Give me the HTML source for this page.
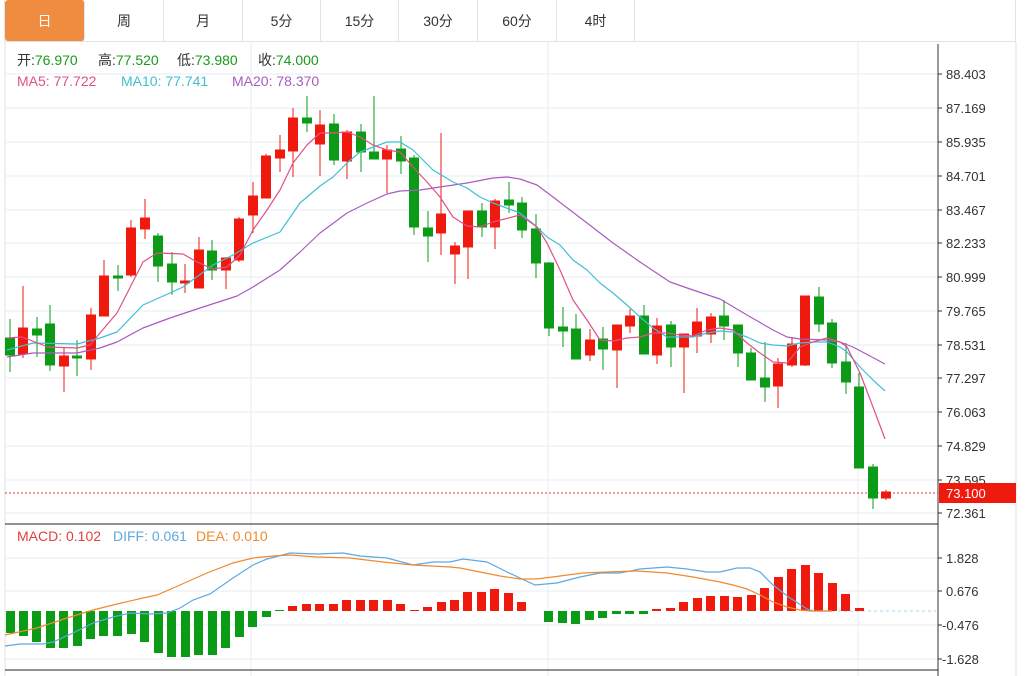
<!DOCTYPE html>
<html><head><meta charset="utf-8"><style>
body{margin:0;background:#fff;width:1033px;height:676px;overflow:hidden;font-family:"Liberation Sans","Noto Sans CJK SC",sans-serif}
.tabs{position:absolute;left:4px;top:0;width:1012px;height:42px;border:1px solid #e2e2e2;border-top:none;box-sizing:border-box}
.tab{position:absolute;top:0;height:41px;line-height:42px;text-align:center;font-size:14px;color:#333;border-right:1px solid #e2e2e2;box-sizing:border-box}
</style></head><body>
<div class="tabs">
<div class="tab" style="left:0;width:80px;background:#f08c40;color:#fff;border-radius:3px">日</div>
<div class="tab" style="left:80px;width:79px">周</div>
<div class="tab" style="left:159px;width:79px">月</div>
<div class="tab" style="left:238px;width:78px">5分</div>
<div class="tab" style="left:316px;width:78px">15分</div>
<div class="tab" style="left:394px;width:79px">30分</div>
<div class="tab" style="left:473px;width:79px">60分</div>
<div class="tab" style="left:552px;width:78px">4时</div>
</div>
<svg width="1033" height="676" style="position:absolute;left:0;top:0" xmlns="http://www.w3.org/2000/svg" font-family="Liberation Sans, Noto Sans CJK SC, sans-serif">
<line x1="1016" y1="42" x2="1016" y2="676" stroke="#e2e2e2"/>
<line x1="5" y1="42" x2="5" y2="676" stroke="#e2e2e2"/>
<g stroke="#e6edf3" stroke-width="1">
<line x1="5" y1="74" x2="938" y2="74"/><line x1="5" y1="108" x2="938" y2="108"/><line x1="5" y1="142" x2="938" y2="142"/><line x1="5" y1="176" x2="938" y2="176"/><line x1="5" y1="210" x2="938" y2="210"/><line x1="5" y1="243" x2="938" y2="243"/><line x1="5" y1="277" x2="938" y2="277"/><line x1="5" y1="311" x2="938" y2="311"/><line x1="5" y1="345" x2="938" y2="345"/><line x1="5" y1="378" x2="938" y2="378"/><line x1="5" y1="412" x2="938" y2="412"/><line x1="5" y1="446" x2="938" y2="446"/><line x1="5" y1="480" x2="938" y2="480"/><line x1="5" y1="513" x2="938" y2="513"/>
<line x1="5" y1="558" x2="938" y2="558"/><line x1="5" y1="591" x2="938" y2="591"/><line x1="5" y1="625" x2="938" y2="625"/><line x1="5" y1="659" x2="938" y2="659"/>
<line x1="251" y1="42" x2="251" y2="676"/><line x1="548" y1="42" x2="548" y2="676"/><line x1="858" y1="42" x2="858" y2="676"/>
</g>
<line x1="938" y1="44" x2="938" y2="676" stroke="#333"/>
<line x1="5" y1="524" x2="938" y2="524" stroke="#222"/>
<line x1="5" y1="670" x2="938" y2="670" stroke="#222"/>
<g font-size="14" fill="#333">
<text x="17" y="65">开:<tspan fill="#1a9a1a">76.970</tspan></text>
<text x="98" y="65">高:<tspan fill="#1a9a1a">77.520</tspan></text>
<text x="177" y="65">低:<tspan fill="#1a9a1a">73.980</tspan></text>
<text x="258" y="65">收:<tspan fill="#1a9a1a">74.000</tspan></text>
<text x="17" y="86" fill="#e0508a">MA5: 77.722</text><text x="121" y="86" fill="#3fbfd3">MA10: 77.741</text><text x="232" y="86" fill="#a95cc0">MA20: 78.370</text>
<text x="17" y="541" fill="#e04040">MACD: 0.102</text><text x="113" y="541" fill="#5fa8e0">DIFF: 0.061</text><text x="196" y="541" fill="#f08a2e">DEA: 0.010</text>
</g>
<g font-size="13" fill="#333">
<g stroke="#333"><line x1="938" y1="74" x2="942" y2="74"/><line x1="938" y1="108" x2="942" y2="108"/><line x1="938" y1="142" x2="942" y2="142"/><line x1="938" y1="176" x2="942" y2="176"/><line x1="938" y1="210" x2="942" y2="210"/><line x1="938" y1="243" x2="942" y2="243"/><line x1="938" y1="277" x2="942" y2="277"/><line x1="938" y1="311" x2="942" y2="311"/><line x1="938" y1="345" x2="942" y2="345"/><line x1="938" y1="378" x2="942" y2="378"/><line x1="938" y1="412" x2="942" y2="412"/><line x1="938" y1="446" x2="942" y2="446"/><line x1="938" y1="480" x2="942" y2="480"/><line x1="938" y1="513" x2="942" y2="513"/><line x1="938" y1="558" x2="942" y2="558"/><line x1="938" y1="591" x2="942" y2="591"/><line x1="938" y1="625" x2="942" y2="625"/><line x1="938" y1="659" x2="942" y2="659"/></g>
<text x="946" y="79">88.403</text><text x="946" y="113">87.169</text><text x="946" y="147">85.935</text><text x="946" y="181">84.701</text><text x="946" y="215">83.467</text><text x="946" y="248">82.233</text><text x="946" y="282">80.999</text><text x="946" y="316">79.765</text><text x="946" y="350">78.531</text><text x="946" y="383">77.297</text><text x="946" y="417">76.063</text><text x="946" y="451">74.829</text><text x="946" y="485">73.595</text><text x="946" y="518">72.361</text>
<text x="946" y="563">1.828</text><text x="946" y="596">0.676</text><text x="942" y="630">-0.476</text><text x="942" y="664">-1.628</text>
</g>
<line x1="5" y1="493" x2="938" y2="493" stroke="#e33" stroke-dasharray="2,2"/>
<rect x="939" y="483" width="77" height="20" fill="#f0190d"/>
<text x="946" y="498" font-size="13" fill="#fff">73.100</text>
<line x1="832" y1="611" x2="936" y2="611" stroke="#a8d4ec" stroke-dasharray="3,3"/>
<g id="c">
<g stroke="#0b9b16" fill="#0b9b16">
<line x1="10" y1="319" x2="10" y2="372"/><rect x="5.5" y="338" width="9" height="17"/>
<line x1="37" y1="317" x2="37" y2="357"/><rect x="32.5" y="329" width="9" height="6"/>
<line x1="50" y1="305" x2="50" y2="371"/><rect x="45.5" y="324" width="9" height="41"/>
<line x1="77" y1="340" x2="77" y2="376"/><rect x="72.5" y="356" width="9" height="2"/>
<line x1="118" y1="265" x2="118" y2="291"/><rect x="113.5" y="276" width="9" height="2"/>
<line x1="158" y1="233" x2="158" y2="282"/><rect x="153.5" y="236" width="9" height="30"/>
<line x1="172" y1="252" x2="172" y2="295"/><rect x="167.5" y="264" width="9" height="18"/>
<line x1="212" y1="240" x2="212" y2="280"/><rect x="207.5" y="251" width="9" height="19"/>
<line x1="307" y1="96" x2="307" y2="132"/><rect x="302.5" y="118" width="9" height="5"/>
<line x1="334" y1="114" x2="334" y2="165"/><rect x="329.5" y="124" width="9" height="36"/>
<line x1="361" y1="124" x2="361" y2="172"/><rect x="356.5" y="132" width="9" height="20"/>
<line x1="374" y1="96" x2="374" y2="159"/><rect x="369.5" y="152" width="9" height="7"/>
<line x1="401" y1="136" x2="401" y2="174"/><rect x="396.5" y="149" width="9" height="12"/>
<line x1="414" y1="155" x2="414" y2="235"/><rect x="409.5" y="158" width="9" height="69"/>
<line x1="428" y1="211" x2="428" y2="262"/><rect x="423.5" y="228" width="9" height="8"/>
<line x1="482" y1="203" x2="482" y2="237"/><rect x="477.5" y="211" width="9" height="16"/>
<line x1="509" y1="182" x2="509" y2="213"/><rect x="504.5" y="200" width="9" height="5"/>
<line x1="522" y1="197" x2="522" y2="238"/><rect x="517.5" y="203" width="9" height="27"/>
<line x1="536" y1="214" x2="536" y2="278"/><rect x="531.5" y="229" width="9" height="34"/>
<line x1="549" y1="262" x2="549" y2="336"/><rect x="544.5" y="263" width="9" height="65"/>
<line x1="563" y1="307" x2="563" y2="347"/><rect x="558.5" y="327" width="9" height="4"/>
<line x1="576" y1="314" x2="576" y2="359"/><rect x="571.5" y="329" width="9" height="30"/>
<line x1="603" y1="327" x2="603" y2="370"/><rect x="598.5" y="339" width="9" height="10"/>
<line x1="644" y1="305" x2="644" y2="354"/><rect x="639.5" y="316" width="9" height="38"/>
<line x1="671" y1="321" x2="671" y2="367"/><rect x="666.5" y="325" width="9" height="22"/>
<line x1="724" y1="300" x2="724" y2="340"/><rect x="719.5" y="316" width="9" height="10"/>
<line x1="738" y1="325" x2="738" y2="367"/><rect x="733.5" y="325" width="9" height="28"/>
<line x1="751" y1="348" x2="751" y2="380"/><rect x="746.5" y="353" width="9" height="27"/>
<line x1="765" y1="342" x2="765" y2="402"/><rect x="760.5" y="378" width="9" height="9"/>
<line x1="819" y1="287" x2="819" y2="332"/><rect x="814.5" y="297" width="9" height="27"/>
<line x1="832" y1="319" x2="832" y2="368"/><rect x="827.5" y="323" width="9" height="40"/>
<line x1="846" y1="343" x2="846" y2="394"/><rect x="841.5" y="362" width="9" height="20"/>
<line x1="859" y1="373" x2="859" y2="468"/><rect x="854.5" y="387" width="9" height="81"/>
<line x1="873" y1="464" x2="873" y2="509"/><rect x="868.5" y="467" width="9" height="31"/>
</g>
<g stroke="#f0190d" fill="#f0190d">
<line x1="23" y1="286" x2="23" y2="358"/><rect x="18.5" y="328" width="9" height="26"/>
<line x1="64" y1="347" x2="64" y2="392"/><rect x="59.5" y="356" width="9" height="10"/>
<line x1="91" y1="308" x2="91" y2="370"/><rect x="86.5" y="315" width="9" height="44"/>
<line x1="104" y1="260" x2="104" y2="316"/><rect x="99.5" y="276" width="9" height="40"/>
<line x1="131" y1="220" x2="131" y2="277"/><rect x="126.5" y="228" width="9" height="47"/>
<line x1="145" y1="199" x2="145" y2="239"/><rect x="140.5" y="218" width="9" height="11"/>
<line x1="185" y1="264" x2="185" y2="293"/><rect x="180.5" y="281" width="9" height="2"/>
<line x1="199" y1="237" x2="199" y2="288"/><rect x="194.5" y="250" width="9" height="38"/>
<line x1="226" y1="257" x2="226" y2="289"/><rect x="221.5" y="258" width="9" height="12"/>
<line x1="239" y1="217" x2="239" y2="262"/><rect x="234.5" y="219" width="9" height="41"/>
<line x1="253" y1="182" x2="253" y2="233"/><rect x="248.5" y="196" width="9" height="19"/>
<line x1="266" y1="154" x2="266" y2="198"/><rect x="261.5" y="156" width="9" height="42"/>
<line x1="280" y1="135" x2="280" y2="172"/><rect x="275.5" y="150" width="9" height="8"/>
<line x1="293" y1="108" x2="293" y2="177"/><rect x="288.5" y="118" width="9" height="33"/>
<line x1="320" y1="110" x2="320" y2="176"/><rect x="315.5" y="125" width="9" height="19"/>
<line x1="347" y1="130" x2="347" y2="179"/><rect x="342.5" y="132" width="9" height="29"/>
<line x1="387" y1="145" x2="387" y2="193"/><rect x="382.5" y="150" width="9" height="9"/>
<line x1="441" y1="133" x2="441" y2="255"/><rect x="436.5" y="214" width="9" height="19"/>
<line x1="455" y1="242" x2="455" y2="284"/><rect x="450.5" y="246" width="9" height="8"/>
<line x1="468" y1="211" x2="468" y2="279"/><rect x="463.5" y="211" width="9" height="36"/>
<line x1="495" y1="199" x2="495" y2="249"/><rect x="490.5" y="201" width="9" height="26"/>
<line x1="590" y1="329" x2="590" y2="361"/><rect x="585.5" y="340" width="9" height="15"/>
<line x1="617" y1="325" x2="617" y2="388"/><rect x="612.5" y="325" width="9" height="25"/>
<line x1="630" y1="309" x2="630" y2="333"/><rect x="625.5" y="316" width="9" height="10"/>
<line x1="657" y1="318" x2="657" y2="364"/><rect x="652.5" y="326" width="9" height="29"/>
<line x1="684" y1="334" x2="684" y2="393"/><rect x="679.5" y="334" width="9" height="13"/>
<line x1="697" y1="308" x2="697" y2="353"/><rect x="692.5" y="322" width="9" height="14"/>
<line x1="711" y1="313" x2="711" y2="343"/><rect x="706.5" y="317" width="9" height="17"/>
<line x1="778" y1="358" x2="778" y2="408"/><rect x="773.5" y="364" width="9" height="22"/>
<line x1="792" y1="337" x2="792" y2="367"/><rect x="787.5" y="344" width="9" height="21"/>
<line x1="805" y1="296" x2="805" y2="366"/><rect x="800.5" y="296" width="9" height="69"/>
<line x1="886" y1="490" x2="886" y2="500"/><rect x="881.5" y="492" width="9" height="6"/>
</g>
</g>
<g fill="none" stroke-width="1.2" stroke-linejoin="round">
<polyline stroke="#a95cc0" points="7,357 33,353 77,353 100,348 117,342 143,328 170,318 200,308 237,296 253,287 280,270 300,252 320,233 347,213 367,203 387,194 400,191 420,190 440,187 467,183 493,178 507,177 520,179 537,185 553,197 587,223 613,243 640,262 670,282 693,290 720,299 747,315 773,330 787,337 800,339 827,340 840,342 853,347 885,364"/>
<polyline stroke="#3fbfd3" points="7,350 33,343 77,344 100,338 117,332 143,305 170,293 183,287 213,265 233,255 253,243 280,232 300,203 320,186 333,177 347,163 360,152 387,142 400,142 413,150 433,170 453,182 467,188 480,197 493,203 520,213 537,227 547,237 560,245 573,260 587,270 600,283 613,293 627,305 640,317 653,328 667,337 680,337 693,337 707,333 720,331 733,332 747,337 760,343 773,345 787,346 800,343 813,342 827,342 840,347 847,352 860,367 873,380 885,391"/>
<polyline stroke="#e0508a" points="7,338 22,337 48,347 77,348 90,345 100,333 117,313 143,262 157,253 183,254 197,262 213,269 227,267 240,255 253,230 267,210 280,190 293,163 307,145 320,133 333,133 347,132 360,137 373,145 387,150 400,152 413,167 427,182 440,197 453,217 467,226 480,227 493,222 520,215 537,227 547,243 560,270 573,300 587,320 600,340 613,341 627,338 640,337 653,333 667,333 680,335 693,336 707,330 720,328 733,330 747,343 760,353 773,362 787,363 800,347 813,342 827,338 840,342 847,347 860,373 873,407 885,439"/>
</g>
<g fill="#0b9b16">
<rect x="6" y="611" width="9" height="22"/><rect x="19" y="611" width="9" height="25"/><rect x="32" y="611" width="9" height="31"/><rect x="46" y="611" width="9" height="37"/><rect x="59" y="611" width="9" height="37"/><rect x="73" y="611" width="9" height="35"/><rect x="86" y="611" width="9" height="28"/><rect x="99" y="611" width="9" height="25"/><rect x="113" y="611" width="9" height="25"/><rect x="127" y="611" width="9" height="23"/><rect x="140" y="611" width="9" height="31"/><rect x="154" y="611" width="9" height="42"/><rect x="167" y="611" width="9" height="46"/><rect x="181" y="611" width="9" height="46"/><rect x="194" y="611" width="9" height="44"/><rect x="208" y="611" width="9" height="44"/><rect x="221" y="611" width="9" height="37"/><rect x="235" y="611" width="9" height="26"/><rect x="248" y="611" width="9" height="16"/><rect x="262" y="611" width="9" height="6"/><rect x="275" y="610" width="9" height="1"/>
<rect x="544" y="611" width="9" height="11"/><rect x="558" y="611" width="9" height="12"/><rect x="571" y="611" width="9" height="13"/><rect x="585" y="611" width="9" height="9"/><rect x="598" y="611" width="9" height="7"/><rect x="612" y="611" width="9" height="3"/><rect x="625" y="611" width="9" height="3"/><rect x="639" y="611" width="9" height="3"/>
</g>
<g fill="#f0190d">
<rect x="288" y="606" width="9" height="5"/><rect x="302" y="604" width="9" height="7"/><rect x="315" y="604" width="9" height="7"/><rect x="329" y="604" width="9" height="7"/><rect x="342" y="600" width="9" height="11"/><rect x="356" y="600" width="9" height="11"/><rect x="369" y="600" width="9" height="11"/><rect x="383" y="600" width="9" height="11"/><rect x="396" y="604" width="9" height="7"/><rect x="410" y="610" width="9" height="1"/><rect x="423" y="607" width="9" height="4"/><rect x="437" y="602" width="9" height="9"/><rect x="450" y="600" width="9" height="11"/><rect x="463" y="592" width="9" height="19"/><rect x="477" y="592" width="9" height="19"/><rect x="490" y="589" width="9" height="22"/><rect x="504" y="593" width="9" height="18"/><rect x="517" y="602" width="9" height="9"/>
<rect x="652" y="609" width="9" height="2"/><rect x="666" y="608" width="9" height="3"/><rect x="679" y="602" width="9" height="9"/><rect x="693" y="598" width="9" height="13"/><rect x="706" y="596" width="9" height="15"/><rect x="720" y="596" width="9" height="15"/><rect x="733" y="597" width="9" height="14"/><rect x="747" y="595" width="9" height="16"/><rect x="760" y="588" width="9" height="23"/><rect x="774" y="577" width="9" height="34"/><rect x="787" y="569" width="9" height="42"/><rect x="801" y="565" width="9" height="46"/><rect x="814" y="573" width="9" height="38"/><rect x="828" y="583" width="9" height="28"/><rect x="841" y="594" width="9" height="17"/><rect x="855" y="608" width="9" height="3"/>
</g>
<g fill="none" stroke-width="1.2">
<polyline stroke="#5fa8e0" points="5,646 20,644 43,644 53,642 73,633 93,623 113,617 130,613 150,614 167,613 180,608 193,600 210,594 233,578 253,565 267,559 290,553 317,554 343,553 360,556 387,558 413,565 433,562 450,562 463,559 487,562 507,572 520,578 535,585 557,583 580,577 600,573 620,573 640,569 667,567 687,569 707,572 720,572 737,568 750,568 760,572 773,585 790,598 807,609 813,611 832,611"/>
<polyline stroke="#f08a2e" points="5,635 37,628 67,618 93,610 117,604 143,598 157,595 180,585 207,573 233,563 253,558 273,556 290,555 317,557 350,558 383,562 413,565 450,567 460,568 480,572 500,576 520,579 537,579 560,576 583,573 607,572 637,571 667,573 693,577 720,582 733,585 747,589 760,595 773,602 787,607 800,610 810,611 832,611"/>
</g>
</svg>
</body></html>
